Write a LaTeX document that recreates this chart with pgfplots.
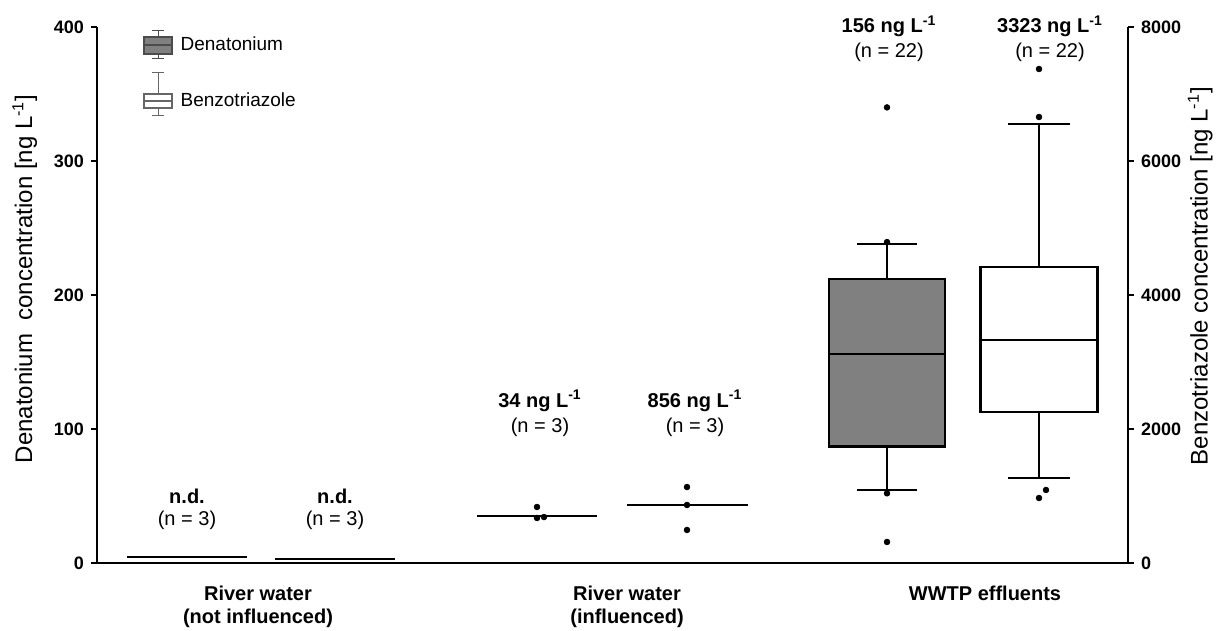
\documentclass[border=0pt]{standalone}
\usepackage{fontspec}
\setmainfont{Liberation Sans}
\usepackage{pgfplots}
\pgfplotsset{compat=1.18}
\definecolor{boxgray}{RGB}{128,128,128}
\begin{document}
\begin{tikzpicture}
\useasboundingbox (-48.5pt,-34pt) rectangle (566.5pt,281.5pt);
\pgfplotsset{
  common/.style={
    scale only axis, width=515.5pt, height=268pt,
    xmin=0.97, xmax=11.28, clip=false,
    axis line style={line width=1.4pt, black},
    ytick style={line width=1.4pt, black},
    tick align=outside, major tick length=3pt,
    /pgf/number format/assume math mode=true,
    /pgf/number format/1000 sep={},
    yticklabel style={font=\bfseries\fontsize{9}{10}\selectfont},
    label style={font=\fontsize{12}{14}\selectfont},
  },
  bx/.style={line width=1.4pt, draw=black, solid, mark=none, forget plot, line cap=rect},
}
% ---------------- Denatonium (left axis)
\begin{axis}[common, ymin=0, ymax=400,
  axis x line*=bottom, axis y line*=left,
  ytick={0,100,200,300,400},
  xtick={2.58,6.27,9.85},
  xticklabels={River water\\(not influenced), River water\\(influenced), WWTP effluents},
  xticklabel style={align=center, font=\bfseries\fontsize{10}{11.5}\selectfont, yshift=-5pt},
  xtick style={draw=none},
  ylabel={Denatonium\ \ concentration [ng L\textsuperscript{-1}]},
  ylabel style={at={(axis description cs:-0.07,0.53)}, anchor=center},
]
% river water (not influenced): n.d.
\addplot[bx] coordinates {(1.28,4.5) (2.46,4.5)};
% river water (influenced)
\addplot[bx] coordinates {(4.78,35) (5.96,35)};
\addplot[only marks, mark=*, mark size=1.4pt, black, forget plot] coordinates {(5.37,41.8) (5.37,33.6) (5.44,34.3)};
% WWTP effluents box (from its five values)
\addplot[bx] coordinates {(8.87,212) (8.87,238)};
\addplot[bx] coordinates {(8.58,238) (9.16,238)};
\addplot[bx] coordinates {(8.87,87) (8.87,54.5)};
\addplot[bx] coordinates {(8.58,54.5) (9.16,54.5)};
\addplot[bx, fill=boxgray] coordinates {(8.29,87) (9.45,87) (9.45,212) (8.29,212) (8.29,87)};
\addplot[bx] coordinates {(8.29,156) (9.45,156)};
\addplot[only marks, mark=*, mark size=1.4pt, black, forget plot] coordinates {(8.87,340) (8.87,239.5) (8.87,52) (8.87,15.7)};

\node[font=\bfseries\fontsize{10}{12}\selectfont] at (axis cs:1.87,50) {n.d.};
\node[font=\fontsize{10}{12}\selectfont] at (axis cs:1.87,32) {(n = 3)};
\node[font=\bfseries\fontsize{10}{12}\selectfont] at (axis cs:3.35,50) {n.d.};
\node[font=\fontsize{10}{12}\selectfont] at (axis cs:3.35,32) {(n = 3)};
\node[font=\bfseries\fontsize{10}{12}\selectfont] at (axis cs:5.40,121) {34 ng L\textsuperscript{-1}};
\node[font=\fontsize{10}{12}\selectfont] at (axis cs:5.40,101.5) {(n = 3)};
\node[font=\bfseries\fontsize{10}{12}\selectfont] at (axis cs:6.95,121) {856 ng L\textsuperscript{-1}};
\node[font=\fontsize{10}{12}\selectfont] at (axis cs:6.95,101.5) {(n = 3)};
\node[font=\bfseries\fontsize{10}{12}\selectfont] at (axis cs:8.89,400.5) {156 ng L\textsuperscript{-1}};
\node[font=\fontsize{10}{12}\selectfont] at (axis cs:8.89,381) {(n = 22)};
\node[font=\bfseries\fontsize{10}{12}\selectfont] at (axis cs:10.50,400.5) {3323 ng L\textsuperscript{-1}};
\node[font=\fontsize{10}{12}\selectfont] at (axis cs:10.50,381) {(n = 22)};
\end{axis}
% ---------------- Benzotriazole (right axis)
\begin{axis}[common, ymin=0, ymax=8000,
  axis x line=none, axis y line*=right,
  ytick={0,2000,4000,6000,8000},
  ylabel={Benzotriazole concentration [ng L\textsuperscript{-1}]},
  ylabel style={at={(axis description cs:1.07,0.535)}, anchor=center},
  legend style={at={(axis description cs:0,1)}, anchor=north west, xshift=20pt, yshift=0.5pt,
    draw=none, fill=none, font=\fontsize{9.5}{11}\selectfont, row sep=6.5pt, column sep=2pt,
    legend cell align=left},
]
\addplot[bx] coordinates {(2.76,60) (3.94,60)};
\addplot[bx] coordinates {(6.28,866) (7.47,866)};
\addplot[only marks, mark=*, mark size=1.4pt, black, forget plot] coordinates {(6.87,1134) (6.87,866) (6.87,493)};
% WWTP box (from its five values)
\addplot[bx] coordinates {(10.39,4418) (10.39,6552)};
\addplot[bx] coordinates {(10.09,6552) (10.69,6552)};
\addplot[bx] coordinates {(10.39,2254) (10.39,1269)};
\addplot[bx] coordinates {(10.09,1269) (10.69,1269)};
\addplot[bx, fill=white] coordinates {(9.805,2254) (10.975,2254) (10.975,4418) (9.805,4418) (9.805,2254)};
\addplot[bx] coordinates {(9.805,3328) (10.975,3328)};
\addplot[only marks, mark=*, mark size=1.4pt, black, forget plot] coordinates {(10.39,7373) (10.39,6657) (10.46,1090) (10.39,970)};

\addlegendimage{legend image code/.code={
  \draw[line width=0.5pt, black!70] (0.3cm,-7pt) -- (0.3cm,7pt);
  \draw[line width=0.5pt, black!70] (0.3cm-3pt,-7pt) -- (0.3cm+3pt,-7pt);
  \draw[line width=0.5pt, black!70] (0.3cm-3pt,7pt) -- (0.3cm+3pt,7pt);
  \draw[line width=0.6pt, black!70, fill=boxgray] (0.3cm-7pt,-4.5pt) rectangle (0.3cm+7pt,4pt);
  \draw[line width=0.6pt, black!70] (0.3cm-7pt,0pt) -- (0.3cm+7pt,0pt);
}}
\addlegendentry{Denatonium}
\addlegendimage{legend image code/.code={
  \draw[line width=0.5pt, black!60] (0.3cm,-7.5pt) -- (0.3cm,14pt);
  \draw[line width=0.5pt, black!60] (0.3cm-3pt,-7.5pt) -- (0.3cm+3pt,-7.5pt);
  \draw[line width=0.5pt, black!60] (0.3cm-3pt,14pt) -- (0.3cm+3pt,14pt);
  \draw[line width=0.6pt, black!60, fill=white] (0.3cm-7pt,-3.5pt) rectangle (0.3cm+7pt,3.5pt);
  \draw[line width=0.6pt, black!60] (0.3cm-7pt,0pt) -- (0.3cm+7pt,0pt);
}}
\addlegendentry{Benzotriazole}
\end{axis}
\end{tikzpicture}
\end{document}
